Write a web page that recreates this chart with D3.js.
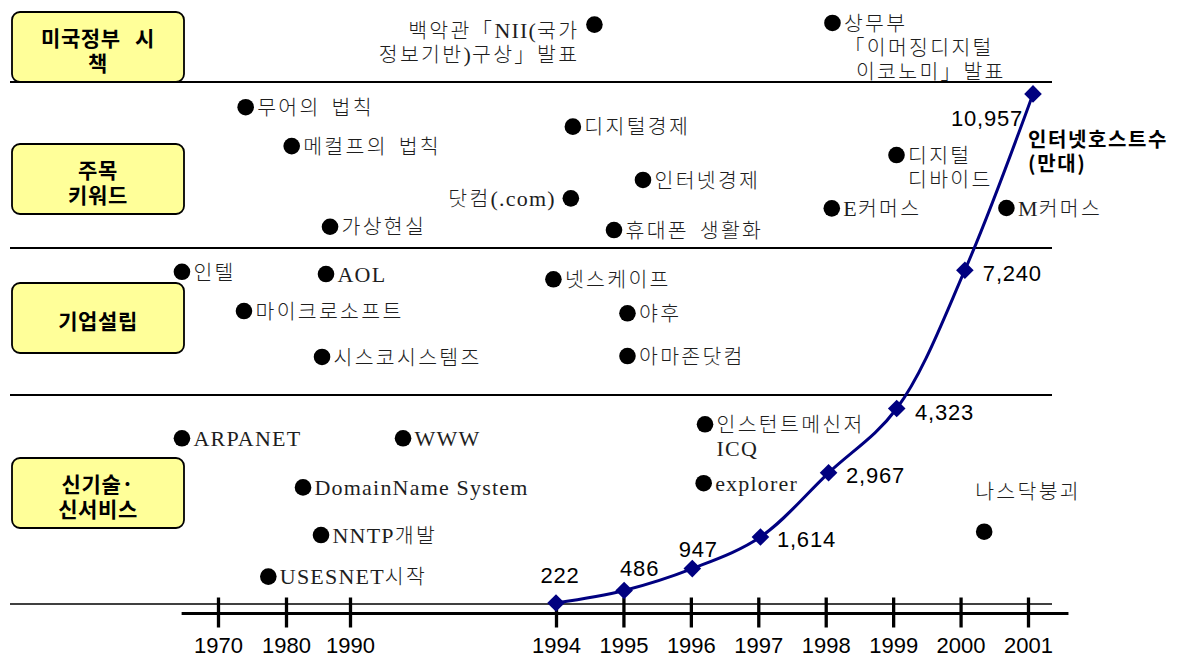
<!DOCTYPE html>
<html>
<head>
<meta charset="utf-8">
<script src="https://cdn.jsdelivr.net/npm/d3@7"></script>
<style>
  html, body { margin: 0; padding: 0; background: #fff; }
  svg { display: block; }
  .ev text { font-family: "Noto Sans CJK KR", sans-serif; font-size: 20.5px; font-weight: 300; letter-spacing: 2.3px; fill: #1e1e1e; }
  .ev .lat { font-family: "Liberation Serif", serif; font-size: 22px; font-weight: 400; letter-spacing: 1.2px; }
  .ev .ko { word-spacing: 4px; }
  .box text { font-family: "Noto Sans CJK KR", sans-serif; font-size: 21px; font-weight: 700; word-spacing: 9px; letter-spacing: 0.6px; fill: #000; }
  .vals text { font-family: "Liberation Sans", Arial, sans-serif; font-size: 22px; letter-spacing: 0.8px; fill: #000; }
  .series-name text { font-family: "Noto Sans CJK KR", sans-serif; font-size: 20px; font-weight: 700; letter-spacing: 1.6px; fill: #000; }
</style>
</head>
<body>
<svg id="chart" width="1181" height="657"></svg>
<script>
// ---- data ----------------------------------------------------------------
// Row headings, top to bottom
const categories = [["미국정부 시", "책"], ["주목", "키워드"], ["기업설립"], ["신기술·", "신서비스"]];

// Timeline tick years
const tickYears = [1970, 1980, 1990, 1994, 1995, 1996, 1997, 1998, 1999, 2000, 2001];

// Internet hosts (만대)
const hostYears = [1994, 1995, 1996, 1997, 1998, 1999, 2000, 2001];
const hostCounts = [222, 486, 947, 1614, 2967, 4323, 7240, 10957];
const seriesName = ["인터넷호스트수", "(만대)"];

// Events per row: timeline position (year), row within the band (0 = top, 1 = bottom)
const govEvents = [
  { lines: ["백악관「NII(국가", "정보기반)구상」발표"], year: 1994.57, row: 0.30, side: "left", dy: 6 },
  { lines: ["상무부", "「이머징디지털", "이코노미」발표"], year: 1998.10, row: 0.28, indent: [0, 0, 12] }
];
const keywordEvents = [
  { lines: ["무어의 법칙"], year: 1974.07, row: 0.152 },
  { lines: ["메컬프의 법칙"], year: 1980.89, row: 0.386 },
  { lines: ["가상현실"], year: 1986.88, row: 0.872 },
  { lines: ["디지털경제"], year: 1994.25, row: 0.269 },
  { lines: ["닷컴(.com)"], year: 1994.22, row: 0.701, side: "left" },
  { lines: ["인터넷경제"], year: 1995.29, row: 0.590 },
  { lines: ["휴대폰 생활화"], year: 1994.86, row: 0.892 },
  { lines: ["디지털", "디바이드"], year: 1999.05, row: 0.440 },
  { lines: ["E커머스"], year: 1998.09, row: 0.761 },
  { lines: ["M커머스"], year: 2000.68, row: 0.759 }
];
const companyEvents = [
  { lines: ["인텔"], year: 1964.7, row: 0.162 },
  { lines: ["AOL"], year: 1986.25, row: 0.177 },
  { lines: ["마이크로소프트"], year: 1973.82, row: 0.429 },
  { lines: ["시스코시스템즈"], year: 1985.63, row: 0.741 },
  { lines: ["넷스케이프"], year: 1993.95, row: 0.213 },
  { lines: ["야후"], year: 1995.06, row: 0.444 },
  { lines: ["아마존닷컴"], year: 1995.06, row: 0.735 }
];
const techEvents = [
  { lines: ["ARPANET"], year: 1964.7, row: 0.207 },
  { lines: ["WWW"], year: 1991.03, row: 0.207 },
  { lines: ["DomainName System"], year: 1982.66, row: 0.442 },
  { lines: ["NNTP개발"], year: 1985.47, row: 0.670 },
  { lines: ["USESNET시작"], year: 1977.40, row: 0.869 },
  { lines: ["인스턴트메신저", "ICQ"], year: 1996.21, row: 0.140 },
  { lines: ["explorer"], year: 1996.19, row: 0.422 },
  { lines: ["나스닥붕괴"], year: 2000.35, row: 0.654, side: "above" }
];

// ---- layout ----------------------------------------------------------------
const svg = d3.select("#chart");
const bandEdges = [0, 82, 248, 395, 604];
const ruleX = [10, 1052];
const boxCenters = [47, 179, 318, 493];
const box = { x: 12, w: 172, h: 70, r: 8 };
const axisY = 613.5;
const axisExtent = [1964.65, 2001.6];
const lineH = 24;

// Broken timeline: decades compressed on the left, single years on the right
const x = d3.scaleLinear()
  .domain([1970, 1980, 1990, 1994, 2001])
  .range([218, 286, 350, 556, 1028]);

// Host-count overlay
const xs = d3.scaleLinear().domain([1994, 2001]).range([556, 1033]);
const y = d3.scaleLinear().domain([0, 10000]).range([axisY, axisY - 474.2]);

// Value label placement: [anchor, dx, dy of text centre]
const valueLabelLayout = [
  ["middle", 4, -28], ["middle", 15.5, -22], ["middle", 6, -19.6],
  ["start", 16.5, 2], ["start", 17.4, 2.7], ["start", 18.3, 4], ["start", 18, 3],
  ["end", -10, 24]
];

// ---- row separators ----------------------------------------------------------
svg.append("g").selectAll("line")
  .data(bandEdges.slice(1))
  .join("line")
  .attr("x1", ruleX[0]).attr("x2", ruleX[1])
  .attr("y1", d => d).attr("y2", d => d)
  .attr("stroke", "#000")
  .attr("stroke-width", (d, i) => i === 3 ? 1.5 : 2.2);

// ---- row heading boxes ------------------------------------------------------
const boxG = svg.append("g").attr("class", "box");
categories.forEach((lines, i) => {
  const c = boxCenters[i];
  boxG.append("rect")
    .attr("x", box.x).attr("y", c - box.h / 2)
    .attr("width", box.w).attr("height", box.h)
    .attr("rx", box.r).attr("ry", box.r)
    .attr("fill", "#ffff99").attr("stroke", "#000").attr("stroke-width", 1.8);
  lines.forEach((ln, j) => {
    const off = (j - (lines.length - 1) / 2) * 25;
    boxG.append("text")
      .attr("x", box.x + box.w / 2)
      .attr("y", c + 3 + off + 8)
      .attr("text-anchor", "middle")
      .text(ln);
  });
});

// ---- timeline axis ----------------------------------------------------------
const axis = d3.axisBottom(x)
  .tickValues(tickYears)
  .tickFormat(d3.format("d"))
  .tickSizeInner(14)
  .tickSizeOuter(0);
const ag = svg.append("g")
  .attr("transform", `translate(0,${axisY})`)
  .call(axis)
  .attr("font-family", "'Liberation Sans', Arial, sans-serif")
  .attr("font-size", 22);
ag.select(".domain").remove();
ag.insert("line", ":first-child")
  .attr("x1", x(axisExtent[0])).attr("x2", x(axisExtent[1]))
  .attr("stroke", "#000").attr("stroke-width", 3);
ag.selectAll(".tick line").attr("y1", -16).attr("y2", 14).attr("stroke", "#000").attr("stroke-width", 3.3);
ag.selectAll(".tick text").attr("y", 39.5).attr("dy", null).attr("fill", "#000");

// ---- events -------------------------------------------------------------------
// Latin runs in a serif face, Hangul runs in a gothic face
function addRuns(textSel, str) {
  const re = /[A-Za-z0-9().,]+(?: [A-Za-z0-9().,]+)*/g;
  let last = 0, m;
  while ((m = re.exec(str))) {
    if (m.index > last) textSel.append("tspan").attr("class", "ko").text(str.slice(last, m.index));
    textSel.append("tspan").attr("class", "lat").text(m[0]);
    last = m.index + m[0].length;
  }
  if (last < str.length) textSel.append("tspan").attr("class", "ko").text(str.slice(last));
}

[govEvents, keywordEvents, companyEvents, techEvents].forEach((events, b) => {
  const by = d3.scaleLinear().domain([0, 1]).range([bandEdges[b], bandEdges[b + 1]]);
  const g = svg.append("g").attr("class", "ev");
  events.forEach(e => {
    const cx = x(e.year), cy = by(e.row);
    g.append("circle").attr("cx", cx).attr("cy", cy).attr("r", 8.3).attr("fill", "#000");
    const side = e.side || "right";
    let tx, ty, anchor = "start";
    if (side === "right") { tx = cx + 11.5; ty = cy; }
    else if (side === "left") { tx = cx - 15; ty = cy; anchor = "end"; }
    else { tx = cx - 9; ty = cy - 40; }
    ty += e.dy || 0;
    e.lines.forEach((ln, i) => {
      const t = g.append("text")
        .attr("x", tx + (e.indent ? e.indent[i] : 0))
        .attr("y", ty + i * lineH + 7.7)
        .attr("text-anchor", anchor);
      addRuns(t, ln);
    });
  });
});

// ---- host-count series ------------------------------------------------------
const pts = hostYears.map((yr, i) => [xs(yr), y(hostCounts[i])]);
svg.append("path")
  .attr("d", d3.line().curve(d3.curveCatmullRom.alpha(0.5))(pts))
  .attr("fill", "none")
  .attr("stroke", "#000080")
  .attr("stroke-width", 3);

const diamond = d3.symbol(d3.symbolSquare, 155);
svg.append("g").selectAll("path")
  .data(pts)
  .join("path")
  .attr("d", diamond)
  .attr("transform", d => `translate(${d[0]},${d[1]}) rotate(45)`)
  .attr("fill", "#000080");

const fmt = d3.format(",");
svg.append("g").attr("class", "vals").selectAll("text")
  .data(pts)
  .join("text")
  .attr("x", (d, i) => d[0] + valueLabelLayout[i][1])
  .attr("y", (d, i) => d[1] + valueLabelLayout[i][2] + 7.9)
  .attr("text-anchor", (d, i) => valueLabelLayout[i][0])
  .text((d, i) => fmt(hostCounts[i]));

const last = pts[pts.length - 1];
svg.append("g").attr("class", "series-name").selectAll("text")
  .data(seriesName)
  .join("text")
  .attr("x", last[0] - 5)
  .attr("y", (d, i) => last[1] + 45.5 + i * 23.5 + 7.6)
  .text(d => d);
</script>
</body>
</html>
